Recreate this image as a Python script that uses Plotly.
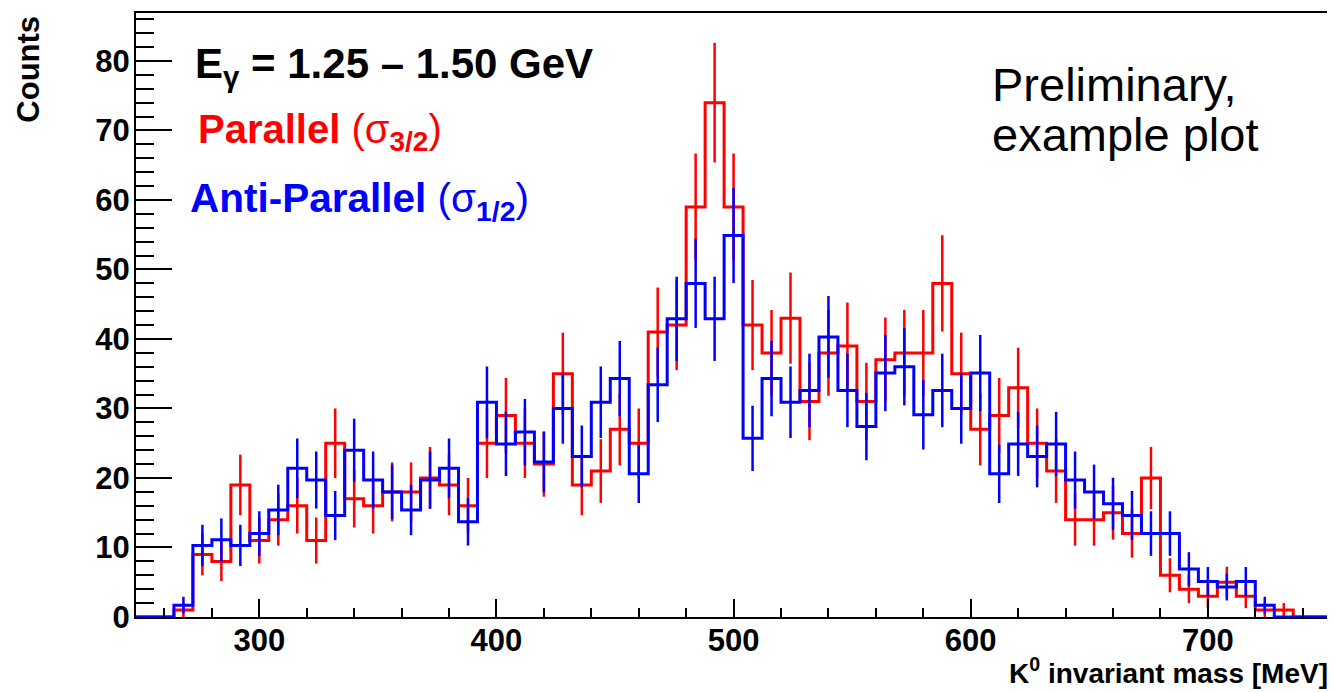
import numpy as np
import plotly.graph_objects as go

# ---------------- data ----------------
bin_edges_lo = 248.0          # left edge of first bin [MeV]
bin_width = 8.0               # bin width [MeV]

red_counts = [0, 0, 1, 9, 8, 19, 11, 14, 16, 11, 25, 17, 16, 18, 18, 20, 19, 16,
              25, 29, 25, 22, 35, 19, 21, 27, 25, 41, 42, 59, 74, 59, 42, 38, 43,
              31, 38, 39, 31, 37, 38, 38, 48, 35, 27, 29, 33, 25, 21, 14, 14, 15,
              12, 20, 6, 4, 3, 5, 3, 1, 1, 0, 0]

blue_values = [0, 0, 1.7, 10.3, 11.1, 10.3, 12.0, 15.4, 21.4, 19.7, 14.6, 24.0,
               19.7, 18.0, 15.4, 19.7, 21.4, 13.7, 30.9, 24.9, 26.6, 22.3, 30.0,
               23.1, 30.9, 34.3, 20.6, 33.4, 42.9, 48.0, 42.9, 54.9, 25.7, 34.3,
               30.9, 32.6, 40.3, 32.6, 27.4, 35.1, 36.0, 29.1, 32.6, 30.0, 35.1,
               20.6, 24.9, 23.1, 24.9, 19.7, 18.0, 16.3, 14.6, 12.0, 12.0, 6.9,
               5.1, 4.3, 5.1, 1.7, 0, 0, 0]
blue_norm = 0.857             # normalisation of the anti-parallel histogram

x_range = [248, 751.5]
y_range = [0, 86.9]
x_ticks = [300, 400, 500, 600, 700]
y_ticks = [0, 10, 20, 30, 40, 50, 60, 70, 80]

title_text = "E<sub>γ</sub> = 1.25 – 1.50 GeV"
red_label = "Parallel <span style='font-weight:normal'>(σ</span><sub>3/2</sub><span style='font-weight:normal'>)</span>"
blue_label = "Anti-Parallel <span style='font-weight:normal'>(σ</span><sub>1/2</sub><span style='font-weight:normal'>)</span>"
note_line1 = "Preliminary,"
note_line2 = "example plot"
x_title = "K<sup>0</sup> invariant mass [MeV]"
y_title = "Counts"

# ---------------- derived ----------------
red = np.array(red_counts, dtype=float)
blue = np.array(blue_values, dtype=float)
n = len(red)
edges = bin_edges_lo + bin_width * np.arange(n + 1)
centers = edges[:-1] + bin_width / 2
red_err = np.sqrt(red)
blue_err = np.sqrt(blue * blue_norm)

RED = "#ff0000"
BLUE = "#0000ff"
FONT = "Liberation Sans"

fig = go.Figure()


def add_hist(vals, errs, color):
    xs = list(edges)
    ys = list(vals) + [vals[-1]]
    fig.add_trace(go.Scatter(x=xs, y=ys, mode="lines", line=dict(color=color, width=3, shape="hv"),
                             hoverinfo="skip", showlegend=False))
    m = vals > 0
    fig.add_trace(go.Scatter(x=centers[m], y=vals[m], mode="markers",
                             marker=dict(size=1, color=color),
                             error_y=dict(type="data", array=errs[m], visible=True, color=color,
                                          thickness=2.5, width=0),
                             hoverinfo="skip", showlegend=False))


add_hist(red, red_err, RED)
add_hist(blue, blue_err, BLUE)

tickfont = dict(family=FONT, size=31, color="black", weight="bold")

fig.update_xaxes(range=x_range, tickvals=x_ticks, ticks="inside", ticklen=18, tickwidth=2,
                 tickcolor="black", showline=True, linecolor="black", linewidth=2, mirror=True,
                 showgrid=False, zeroline=False, tickfont=tickfont, ticklabelstandoff=-5,
                 minor=dict(dtick=20, tick0=0, ticks="inside", ticklen=9, tickwidth=2, tickcolor="black",
                            showgrid=False))
fig.update_yaxes(range=y_range, tickvals=y_ticks, ticks="inside", ticklen=36, tickwidth=2,
                 tickcolor="black", showline=True, linecolor="black", linewidth=2, mirror=True,
                 showgrid=False, zeroline=False, tickfont=tickfont, ticklabelstandoff=-2,
                 minor=dict(dtick=2, tick0=0, ticks="inside", ticklen=18, tickwidth=2, tickcolor="black",
                            showgrid=False))

# The page body has an 8px margin; size the figure so the plot frame lands at
# window pixels x 136..1332, y 12..617.
W, H = 1327, 684
L, R, T, B = 128, 3, 4, 75
PX0, PX1 = 136.0, 1332.0      # plot frame in window pixels
PY0, PY1 = 12.0, 617.0


def px(xw):
    return (xw - PX0) / (PX1 - PX0)


def py(yw):
    return (PY1 - yw) / (PY1 - PY0)


ann = [
    dict(text=title_text, x=px(193), y=py(66), xanchor="left", yanchor="middle",
         font=dict(family=FONT, size=42, color="black", weight="bold")),
    dict(text=red_label, x=px(196), y=py(131), xanchor="left", yanchor="middle",
         font=dict(family=FONT, size=40, color=RED, weight="bold")),
    dict(text=blue_label, x=px(188), y=py(200), xanchor="left", yanchor="middle",
         font=dict(family=FONT, size=40.5, color=BLUE, weight="bold")),
    dict(text=note_line1, x=px(991), y=py(84), xanchor="left", yanchor="middle",
         font=dict(family=FONT, size=47, color="black")),
    dict(text=note_line2, x=px(991), y=py(134), xanchor="left", yanchor="middle",
         font=dict(family=FONT, size=47, color="black")),
    dict(text=x_title, x=1.0, y=py(671), xanchor="right", yanchor="middle",
         font=dict(family=FONT, size=28, color="black", weight="bold")),
    dict(text=y_title, x=px(28), y=py(13), xanchor="center", yanchor="top", textangle=-90,
         font=dict(family=FONT, size=31, color="black", weight="bold")),
]
for a in ann:
    a.update(xref="paper", yref="paper", showarrow=False)

fig.update_layout(width=W, height=H, margin=dict(l=L, r=R, t=T, b=B, pad=0),
                  paper_bgcolor="white", plot_bgcolor="white", annotations=ann,
                  showlegend=False)

fig.write_html("out.html")
